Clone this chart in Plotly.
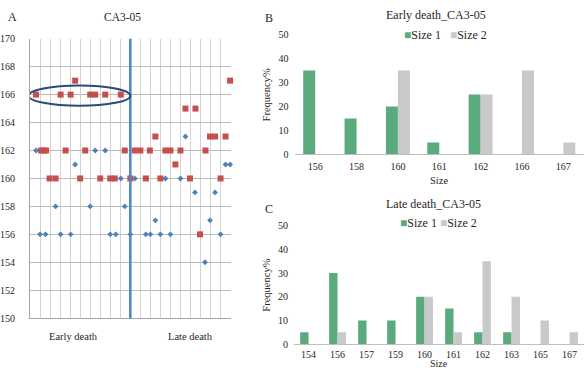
import plotly.graph_objects as go

# ---------------- Panel A data (position index along time axis, size) ----------------
early_s1_x = [1.2, 13, 15, 9, 18.1, 5.1, 12, 18.9, 2.0, 3.1, 6.1, 8.1, 16, 17.1]
early_s1_y = [162, 162, 162, 161, 160, 158, 158, 158, 156, 156, 156, 156, 156, 156]
late_s1_x = [31, 39, 39.9, 20.9, 27, 30, 32.9, 36.9, 25, 35.9, 20, 23.1, 24, 26, 28, 38, 34.9]
late_s1_y = [163, 161, 161, 160, 160, 160, 159, 159, 157, 157, 156, 156, 156, 156, 156, 156, 154]

early_s2_x = [9, 1.2, 6.1, 8.1, 12, 13, 15, 18.1, 2.2, 2.7, 3.2, 7.1, 11, 18.9,
              3.9, 5.1, 10, 14, 16, 16.9, 20]
early_s2_y = [167, 166, 166, 166, 166, 166, 166, 166, 162, 162, 162, 162, 162, 162,
              160, 160, 160, 160, 160, 160, 160]
late_s2_x = [39.9, 31, 33, 25, 35.9, 36.9, 39, 20.9, 22, 23.9, 27, 28, 30, 35,
             29, 23.1, 26, 31.9, 38, 33.9]
late_s2_y = [167, 165, 165, 163, 163, 163, 163, 162, 162, 162, 162, 162, 162, 162,
             161, 160, 160, 160, 160, 156]

# ---------------- Panel B data ----------------
b_cats = ["156", "158", "160", "161", "162", "166", "167"]
b_size1 = [35, 15, 20, 5, 25, 0, 0]
b_size2 = [0, 0, 35, 0, 25, 35, 5]

# ---------------- Panel C data ----------------
c_cats = ["154", "156", "157", "159", "160", "161", "162", "163", "165", "167"]
c_size1 = [5, 30, 10, 10, 20, 15, 5, 5, 0, 0]
c_size2 = [0, 5, 0, 0, 20, 5, 35, 20, 10, 5]

W, H = 586, 375
FONT = "Liberation Serif, Times New Roman, DejaVu Serif, serif"
TXT = "#262626"
BLUE = "#4F81BD"
RED = "#C4504D"
GREEN = "#5BAA7E"
GRAY = "#C9C9C9"


def px_x(p):
    return p / W


def px_y(p):
    return 1 - p / H


fig = go.Figure()

fig.add_trace(go.Scatter(x=early_s1_x + late_s1_x, y=early_s1_y + late_s1_y, mode="markers",
                         marker=dict(symbol="diamond", size=4.5, color=BLUE),
                         xaxis="x", yaxis="y", cliponaxis=False, showlegend=False, name="Size 1"))
fig.add_trace(go.Scatter(x=early_s2_x + late_s2_x, y=early_s2_y + late_s2_y, mode="markers",
                         marker=dict(symbol="square", size=6, color=RED),
                         xaxis="x", yaxis="y", cliponaxis=False, showlegend=False, name="Size 2"))

fig.add_trace(go.Bar(x=b_cats, y=b_size1, marker=dict(color=GREEN, line=dict(width=0)),
                     xaxis="x2", yaxis="y2", name="Size 1", showlegend=False))
fig.add_trace(go.Bar(x=b_cats, y=b_size2, marker=dict(color=GRAY, line=dict(width=0)),
                     xaxis="x2", yaxis="y2", name="Size 2", showlegend=False))
fig.add_trace(go.Bar(x=c_cats, y=c_size1, marker=dict(color=GREEN, line=dict(width=0)),
                     xaxis="x3", yaxis="y3", name="Size 1", showlegend=False))
fig.add_trace(go.Bar(x=c_cats, y=c_size2, marker=dict(color=GRAY, line=dict(width=0)),
                     xaxis="x3", yaxis="y3", name="Size 2", showlegend=False))

tickf = dict(family=FONT, size=10, color=TXT)

fig.update_layout(
    width=W, height=H, margin=dict(l=0, r=0, t=0, b=0),
    paper_bgcolor="white", plot_bgcolor="white",
    barmode="group", bargap=0.42, bargroupgap=0,
    font=dict(family=FONT, color=TXT),
    xaxis=dict(domain=[px_x(23.3), px_x(226.3)], range=[0, 40], dtick=2, tick0=0,
               showgrid=True, gridcolor="#D3D3D3", gridwidth=1, showticklabels=False,
               showline=True, linecolor="#A6A6A6", zeroline=False, ticks="", anchor="y"),
    yaxis=dict(domain=[px_y(322.5), px_y(33.8)], range=[150, 170], dtick=2,
               showgrid=True, gridcolor="#BDBDBD", gridwidth=1, showline=True,
               linecolor="#A6A6A6", zeroline=False, ticks="", tickfont=tickf,
               ticklabelstandoff=12, anchor="x"),
    xaxis2=dict(domain=[px_x(291), px_x(584)], type="category", range=[-0.5, 6.5],
                showline=True, linecolor="#BFBFBF", ticks="", tickfont=tickf,
                ticklabelstandoff=3, anchor="y2", showgrid=False),
    yaxis2=dict(domain=[px_y(153.3), px_y(29.6)], range=[0, 50], dtick=10,
                showgrid=False, showline=False, zeroline=False, ticks="", tickfont=tickf,
                ticklabelstandoff=5, anchor="x2"),
    xaxis3=dict(domain=[px_x(290.5), px_x(584)], type="category", range=[-0.5, 9.5],
                showline=True, linecolor="#BFBFBF", ticks="", tickfont=tickf,
                ticklabelstandoff=1, anchor="y3", showgrid=False),
    yaxis3=dict(domain=[px_y(349.3), px_y(227)], range=[0, 50], dtick=10,
                showgrid=False, showline=False, zeroline=False, ticks="", tickfont=tickf,
                ticklabelstandoff=5, anchor="x3"),
)

# Divider line between early and late death, and highlight ellipse
fig.add_shape(type="line", xref="x", yref="y domain", x0=20, x1=20, y0=0, y1=1,
              line=dict(color="#4A86C8", width=2.5))
fig.add_shape(type="circle", xref="x", yref="y", x0=-0.3, x1=20.0, y0=165.2, y1=166.65,
              line=dict(color="#2C4A78", width=2))

ann = []


def add_text(text, x, y, size, xanchor="center", yanchor="middle", angle=0, xref="paper", pad=1):
    ann.append(dict(text=text, x=x, y=y, xref=xref, yref="paper", showarrow=False,
                    xanchor=xanchor, yanchor=yanchor, textangle=angle, borderpad=pad,
                    font=dict(family=FONT, size=size, color=TXT)))


add_text("A", px_x(-1), px_y(11.5), 12, xanchor="left")
add_text("CA3-05", px_x(117), px_y(11.5), 11.5)
add_text("Early death", 8.6, px_y(341), 10.5, xref="x")
add_text("Late death", 32.0, px_y(341), 10.5, xref="x")

add_text("B", px_x(265), px_y(12), 12)
add_text("Early death_CA3-05", px_x(434), px_y(9.5), 12)
add_text('<span style="color:%s">■</span>Size 1\u00a0\u00a0\u00a0<span style="color:%s">■</span>Size 2'
         % (GREEN, GRAY), px_x(444), px_y(29.5), 12)
add_text("Frequency%", px_x(263), px_y(91.5), 10.5, angle=-90)
add_text("Size", px_x(437.5), px_y(180), 10.5)

add_text("C", px_x(265), px_y(210), 12)
add_text("Late death_CA3-05", px_x(432), px_y(205), 12)
add_text('<span style="color:%s">■</span>Size 1\u00a0<span style="color:%s">■</span>Size 2'
         % (GREEN, GRAY), px_x(437), px_y(224), 12)
add_text("Frequency%", px_x(263), px_y(288), 10.5, angle=-90)
add_text("Size", px_x(437), px_y(376.5), 10, yanchor="bottom", pad=0)

fig.update_layout(annotations=ann)

fig.write_html("out.html")
